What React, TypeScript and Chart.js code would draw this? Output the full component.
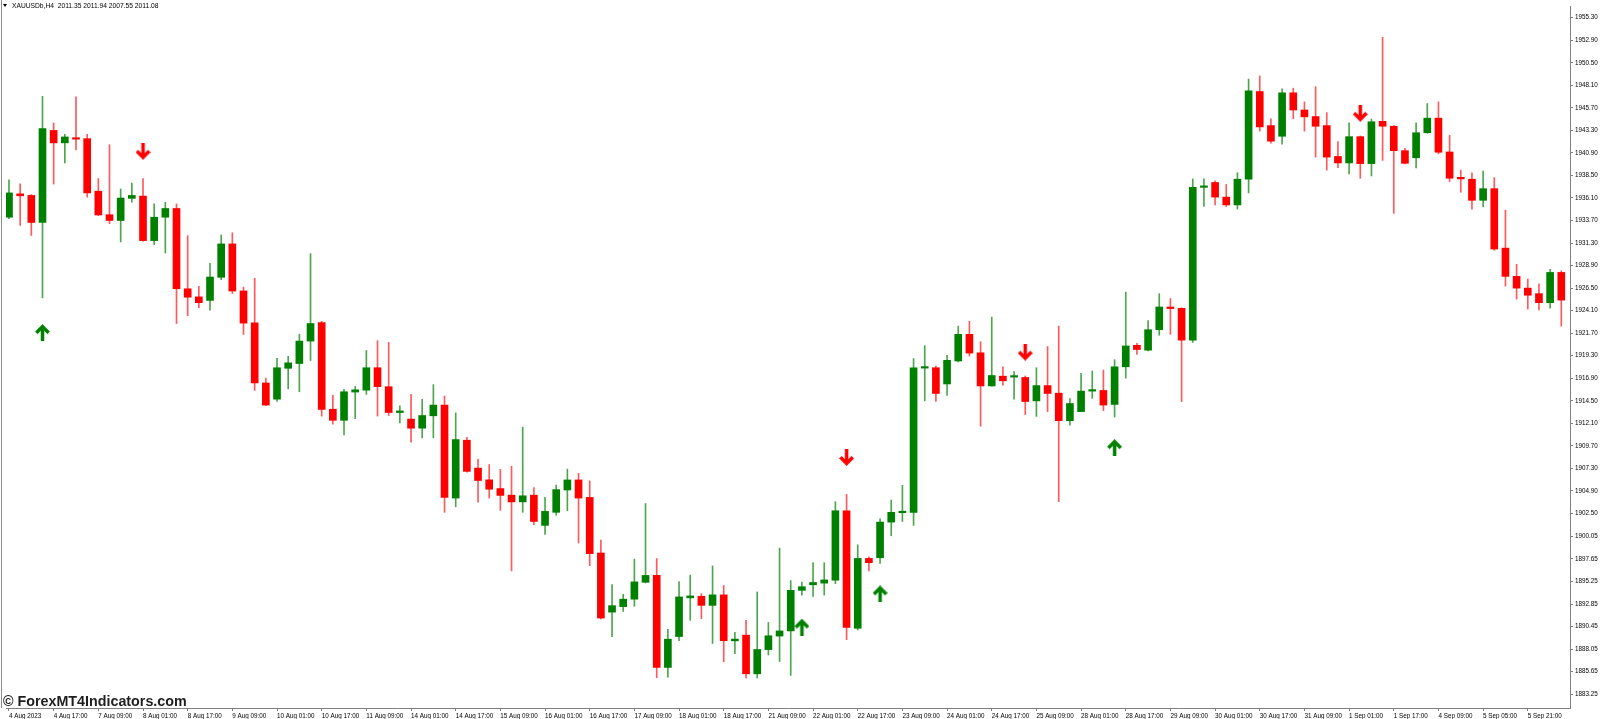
import React, { useEffect, useRef } from 'react';
import { Chart, registerables } from 'chart.js';

Chart.register(...registerables);

// ---- data (XAUUSD H4) ----
const opens = [
  1934.05, 1936.54, 1936.37, 1933.49, 1943.29, 1941.97, 1942.49, 1942.42, 1936.82, 1934.32,
  1933.70, 1936.06, 1936.30, 1931.56, 1934.05, 1934.98, 1926.43, 1925.57, 1925.19, 1927.65,
  1931.21, 1926.20, 1922.80, 1916.40, 1914.67, 1917.96, 1918.47, 1920.86, 1922.84, 1913.60,
  1912.42, 1915.43, 1915.63, 1918.02, 1916.00, 1913.25, 1912.55, 1911.58, 1912.90, 1914.04,
  1904.14, 1910.30, 1907.33, 1906.08, 1905.15, 1904.45, 1903.73, 1904.45, 1901.23, 1902.62,
  1905.00, 1906.07, 1904.21, 1898.29, 1891.99, 1892.58, 1893.37, 1895.17, 1895.90, 1886.10,
  1889.39, 1893.51, 1893.68, 1892.71, 1893.83, 1888.93, 1889.54, 1885.42, 1888.00, 1889.44,
  1889.99, 1894.31, 1894.90, 1895.08, 1895.39, 1902.79, 1890.27, 1897.71, 1897.78, 1901.58,
  1902.58, 1902.62, 1917.98, 1918.02, 1916.29, 1918.74, 1921.58, 1919.61, 1916.08, 1917.12,
  1917.02, 1916.98, 1914.49, 1916.12, 1915.31, 1912.38, 1913.35, 1915.53, 1915.60, 1914.11,
  1918.12, 1920.41, 1919.89, 1922.07, 1924.49, 1924.35, 1920.96, 1937.23, 1937.75, 1936.19,
  1935.36, 1938.10, 1947.44, 1943.81, 1942.67, 1947.30, 1945.47, 1944.77, 1943.81, 1940.52,
  1939.83, 1942.63, 1939.76, 1944.26, 1943.74, 1941.14, 1940.38, 1943.05, 1944.60, 1941.00,
  1938.30, 1938.10, 1935.85, 1937.09, 1930.76, 1927.75, 1926.50, 1925.91, 1924.95, 1928.17,
];
const highs = [
  1938.03, 1937.61, 1936.47, 1946.92, 1944.09, 1942.87, 1946.86, 1942.87, 1938.17, 1941.77,
  1937.06, 1937.68, 1938.17, 1935.47, 1935.64, 1935.47, 1932.08, 1926.68, 1929.14, 1932.15,
  1932.39, 1926.61, 1927.54, 1916.92, 1919.03, 1919.24, 1921.59, 1930.17, 1922.97, 1915.08,
  1915.71, 1916.02, 1919.86, 1920.90, 1920.72, 1913.97, 1915.18, 1914.66, 1916.22, 1915.01,
  1913.21, 1910.62, 1908.26, 1907.71, 1907.19, 1907.53, 1911.69, 1905.25, 1904.21, 1905.52,
  1907.22, 1906.77, 1905.97, 1899.67, 1894.93, 1893.89, 1897.63, 1903.55, 1897.70, 1890.15,
  1895.24, 1895.93, 1893.96, 1896.91, 1894.83, 1889.85, 1891.13, 1894.14, 1890.89, 1898.81,
  1895.35, 1895.18, 1897.26, 1897.26, 1903.76, 1904.53, 1899.16, 1897.88, 1901.93, 1903.93,
  1905.49, 1918.99, 1920.37, 1918.19, 1919.33, 1922.45, 1922.97, 1920.79, 1923.42, 1918.12,
  1917.60, 1917.15, 1918.02, 1920.28, 1922.45, 1914.73, 1917.43, 1917.67, 1917.78, 1918.88,
  1926.08, 1920.61, 1923.04, 1925.91, 1925.39, 1924.40, 1938.13, 1938.13, 1937.92, 1937.54,
  1938.79, 1948.76, 1949.10, 1944.54, 1947.72, 1947.79, 1946.33, 1947.96, 1945.19, 1942.11,
  1944.09, 1942.70, 1944.50, 1953.22, 1943.81, 1941.39, 1944.09, 1946.16, 1946.34, 1942.77,
  1939.07, 1938.79, 1938.96, 1938.27, 1934.81, 1929.03, 1927.47, 1926.95, 1928.51, 1928.34,
];
const lows = [
  1933.90, 1933.18, 1932.11, 1925.46, 1937.58, 1939.83, 1941.21, 1936.19, 1934.22, 1933.36,
  1931.42, 1935.64, 1931.50, 1931.14, 1930.24, 1922.73, 1923.56, 1924.43, 1924.15, 1927.40,
  1925.92, 1921.56, 1915.60, 1913.97, 1914.42, 1915.77, 1915.46, 1918.79, 1912.87, 1912.00,
  1910.86, 1912.59, 1915.18, 1912.87, 1912.93, 1912.14, 1910.10, 1910.55, 1910.55, 1902.62,
  1903.21, 1906.91, 1903.69, 1904.14, 1902.83, 1896.39, 1902.62, 1901.30, 1900.26, 1902.30,
  1902.79, 1899.36, 1896.94, 1891.26, 1889.39, 1892.06, 1892.61, 1895.10, 1885.00, 1885.06,
  1888.94, 1891.12, 1891.29, 1888.65, 1886.70, 1887.56, 1884.97, 1884.97, 1887.43, 1886.73,
  1885.25, 1893.80, 1893.66, 1893.80, 1895.01, 1889.05, 1890.09, 1896.39, 1897.19, 1900.12,
  1901.65, 1901.23, 1914.49, 1914.42, 1915.08, 1918.64, 1919.26, 1911.79, 1916.05, 1916.15,
  1914.66, 1913.03, 1912.83, 1913.35, 1903.76, 1911.89, 1913.35, 1914.76, 1913.45, 1912.76,
  1916.91, 1919.44, 1919.82, 1921.48, 1921.58, 1914.42, 1920.72, 1935.19, 1935.36, 1935.19,
  1934.91, 1936.64, 1943.22, 1941.94, 1941.84, 1944.54, 1943.22, 1940.45, 1939.07, 1939.34,
  1938.65, 1938.20, 1938.44, 1940.10, 1934.46, 1939.72, 1939.31, 1942.98, 1940.80, 1937.85,
  1936.71, 1934.91, 1935.15, 1930.52, 1926.71, 1925.32, 1924.28, 1924.18, 1924.36, 1922.45,
];
const closes = [
  1936.64, 1936.33, 1933.49, 1943.50, 1941.97, 1942.60, 1942.36, 1936.64, 1934.29, 1933.70,
  1936.09, 1936.37, 1931.56, 1934.05, 1934.98, 1926.43, 1925.53, 1924.95, 1927.68, 1931.21,
  1926.19, 1922.77, 1916.40, 1914.04, 1918.02, 1918.54, 1920.86, 1922.73, 1913.59, 1912.42,
  1915.46, 1915.67, 1918.02, 1916.01, 1913.25, 1913.42, 1911.58, 1912.93, 1914.04, 1904.21,
  1910.37, 1906.98, 1906.01, 1905.08, 1904.42, 1903.73, 1904.38, 1901.65, 1902.72, 1905.04,
  1906.07, 1904.14, 1898.22, 1891.36, 1892.68, 1893.37, 1895.21, 1895.90, 1886.10, 1889.11,
  1893.61, 1893.72, 1892.71, 1893.83, 1888.95, 1889.12, 1885.42, 1888.01, 1889.47, 1889.99,
  1894.31, 1894.70, 1895.15, 1895.42, 1902.79, 1890.37, 1897.71, 1897.26, 1901.58, 1902.62,
  1902.68, 1918.02, 1918.05, 1915.28, 1918.81, 1921.58, 1919.58, 1916.08, 1917.19, 1916.63,
  1917.12, 1914.42, 1916.12, 1915.28, 1912.38, 1914.21, 1915.53, 1915.63, 1914.04, 1918.12,
  1920.34, 1919.96, 1922.07, 1924.49, 1924.32, 1920.96, 1937.23, 1937.33, 1936.19, 1935.36,
  1938.10, 1947.51, 1943.67, 1942.15, 1947.30, 1945.47, 1944.74, 1943.74, 1940.45, 1939.83,
  1942.63, 1939.76, 1944.22, 1943.74, 1941.14, 1939.79, 1943.05, 1944.60, 1940.97, 1938.20,
  1938.13, 1935.85, 1937.09, 1930.66, 1927.75, 1926.50, 1925.74, 1924.95, 1928.17, 1925.22,
];

// x-axis labels, one every 4 bars starting at bar 0
const xTickLabels = [
  '4 Aug 2023', '4 Aug 17:00', '7 Aug 09:00', '8 Aug 01:00', '8 Aug 17:00', '9 Aug 09:00',
  '10 Aug 01:00', '10 Aug 17:00', '11 Aug 09:00', '14 Aug 01:00', '14 Aug 17:00', '15 Aug 09:00',
  '16 Aug 01:00', '16 Aug 17:00', '17 Aug 09:00', '18 Aug 01:00', '18 Aug 17:00', '21 Aug 09:00',
  '22 Aug 01:00', '22 Aug 17:00', '23 Aug 09:00', '24 Aug 01:00', '24 Aug 17:00', '25 Aug 09:00',
  '28 Aug 01:00', '28 Aug 17:00', '29 Aug 09:00', '30 Aug 01:00', '30 Aug 17:00', '31 Aug 09:00',
  '1 Sep 01:00', '1 Sep 17:00', '4 Sep 09:00', '5 Sep 05:00', '5 Sep 21:00',
];
const yTickValues = [
  1955.30, 1952.90, 1950.50, 1948.10, 1945.70, 1943.30, 1940.90, 1938.50, 1936.10, 1933.70,
  1931.30, 1928.90, 1926.50, 1924.10, 1921.70, 1919.30, 1916.90, 1914.50, 1912.10, 1909.70,
  1907.30, 1904.90, 1902.50, 1900.05, 1897.65, 1895.25, 1892.85, 1890.45, 1888.05, 1885.65,
  1883.25,
];

// signal arrows
const buyArrowBars = [3, 71, 78, 99];
const buyArrowPrices = [1921.76, 1890.40, 1893.93, 1909.51];
const sellArrowBars = [12, 75, 91, 121];
const sellArrowPrices = [1941.07, 1908.47, 1919.68, 1945.12];

const headerText = 'XAUUSDb,H4  2011.35 2011.94 2007.55 2011.08';
const watermarkText = '\u00A9 ForexMT4Indicators.com';

const BULL = '#008000';
const BEAR = '#ff0000';
const BULL_WICK = 'rgba(0,128,0,0.7)';
const BEAR_WICK = 'rgba(255,0,0,0.65)';
const AXIS = '#808080';
const FONT = '"Liberation Sans", Arial, sans-serif';

function makeArrow(up: boolean, color: string): HTMLCanvasElement {
  const c = document.createElement('canvas');
  c.width = 15;
  c.height = 17;
  const g = c.getContext('2d')!;
  g.strokeStyle = color;
  g.lineWidth = 3.5;
  g.lineJoin = 'miter';
  g.lineCap = 'butt';
  if (up) {
    g.translate(0, 17);
    g.scale(1, -1);
  }
  g.beginPath();
  g.moveTo(7.5, 0);
  g.lineTo(7.5, 14);
  g.stroke();
  g.beginPath();
  g.moveTo(1.3, 8.3);
  g.lineTo(7.5, 14.5);
  g.lineTo(13.7, 8.3);
  g.stroke();
  return c;
}

export default function App() {
  const canvasRef = useRef<HTMLCanvasElement>(null);

  useEffect(() => {
    document.body.style.margin = '0';
    const canvas = canvasRef.current;
    if (!canvas) return;

    const colors = opens.map((o, i) => (closes[i] >= o ? BULL : BEAR));
    const wickColors = opens.map((o, i) => (closes[i] >= o ? BULL_WICK : BEAR_WICK));
    const bodies = opens.map((o, i) => ({ x: i, y: [o, closes[i]] }));
    const wicks = lows.map((l, i) => ({ x: i, y: [l, highs[i]] }));
    const buys = buyArrowBars.map((b, k) => ({ x: b, y: buyArrowPrices[k] }));
    const sells = sellArrowBars.map((b, k) => ({ x: b, y: sellArrowPrices[k] }));

    const chart = new Chart(canvas, {
      type: 'bar',
      data: {
        datasets: [
          {
            type: 'scatter',
            data: buys,
            pointStyle: makeArrow(true, BULL),
            pointRadius: 5,
            backgroundColor: BULL,
            borderColor: BULL,
          } as any,
          {
            type: 'scatter',
            data: sells,
            pointStyle: makeArrow(false, BEAR),
            pointRadius: 5,
            backgroundColor: BEAR,
            borderColor: BEAR,
          } as any,
          {
            type: 'bar',
            data: bodies,
            backgroundColor: colors,
            borderWidth: 0,
            barThickness: 7,
            minBarLength: 1.5,
            grouped: false,
          } as any,
          {
            type: 'bar',
            data: wicks,
            backgroundColor: wickColors,
            borderWidth: 0,
            barThickness: 1,
            grouped: false,
          } as any,
        ],
      },
      options: {
        responsive: false,
        animation: false,
        devicePixelRatio: 1,
        events: [],
        layout: { padding: 0 },
        plugins: { legend: { display: false }, tooltip: { enabled: false } },
        scales: {
          x: {
            type: 'linear',
            position: 'bottom',
            min: -0.268,
            max: 139.78,
            offset: false,
            grid: { display: true, drawOnChartArea: false, drawTicks: true, tickLength: 3, color: AXIS, offset: false },
            border: { display: true, color: AXIS, width: 1 },
            ticks: {
              autoSkip: false,
              maxRotation: 0,
              minRotation: 0,
              align: 'start',
              padding: 1,
              color: '#000',
              font: { family: FONT, size: 6.3 },
              callback: (v: any) => xTickLabels[Math.round(Number(v) / 4)] ?? '',
            },
            afterBuildTicks: (s: any) => {
              s.ticks = xTickLabels.map((_, k) => ({ value: k * 4 }));
            },
            afterFit: (s: any) => {
              s.height = 11;
            },
          },
          y: {
            type: 'linear',
            position: 'right',
            min: 1881.78,
            max: 1956.546,
            grid: { display: true, drawOnChartArea: false, drawTicks: true, tickLength: 3, color: AXIS },
            border: { display: true, color: AXIS, width: 1 },
            ticks: {
              padding: 2,
              color: '#000',
              font: { family: FONT, size: 6.3 },
              callback: (v: any) => Number(v).toFixed(2),
            },
            afterBuildTicks: (s: any) => {
              s.ticks = yTickValues.map((v) => ({ value: v }));
            },
            afterFit: (s: any) => {
              s.width = 30;
            },
          },
        },
      } as any,
    });

    return () => chart.destroy();
  }, []);

  return (
    <div
      style={{
        position: 'fixed',
        left: 0,
        top: 0,
        width: 1600,
        height: 719,
        background: '#fff',
        overflow: 'hidden',
      }}
    >
      <canvas
        ref={canvasRef}
        width={1600}
        height={719}
        style={{ position: 'absolute', left: 0, top: 0, width: 1600, height: 719 }}
      />
      <div style={{ position: 'absolute', left: 1, top: 0, width: 1, height: 708, background: '#8c8c8c' }} />
      <div
        style={{
          position: 'absolute',
          left: 3,
          top: 4,
          width: 0,
          height: 0,
          borderLeft: '2.5px solid transparent',
          borderRight: '2.5px solid transparent',
          borderTop: '3px solid #000',
        }}
      />
      <div
        style={{
          position: 'absolute',
          left: 12,
          top: 1,
          font: `6.7px ${FONT}`,
          lineHeight: '9px',
          color: '#000',
          whiteSpace: 'pre',
        }}
      >
        {headerText}
      </div>
      <div
        style={{
          position: 'absolute',
          left: 3,
          top: 693,
          font: `bold 14.3px ${FONT}`,
          lineHeight: '16px',
          color: '#1e1e1e',
          whiteSpace: 'pre',
        }}
      >
        {watermarkText}
      </div>
    </div>
  );
}
